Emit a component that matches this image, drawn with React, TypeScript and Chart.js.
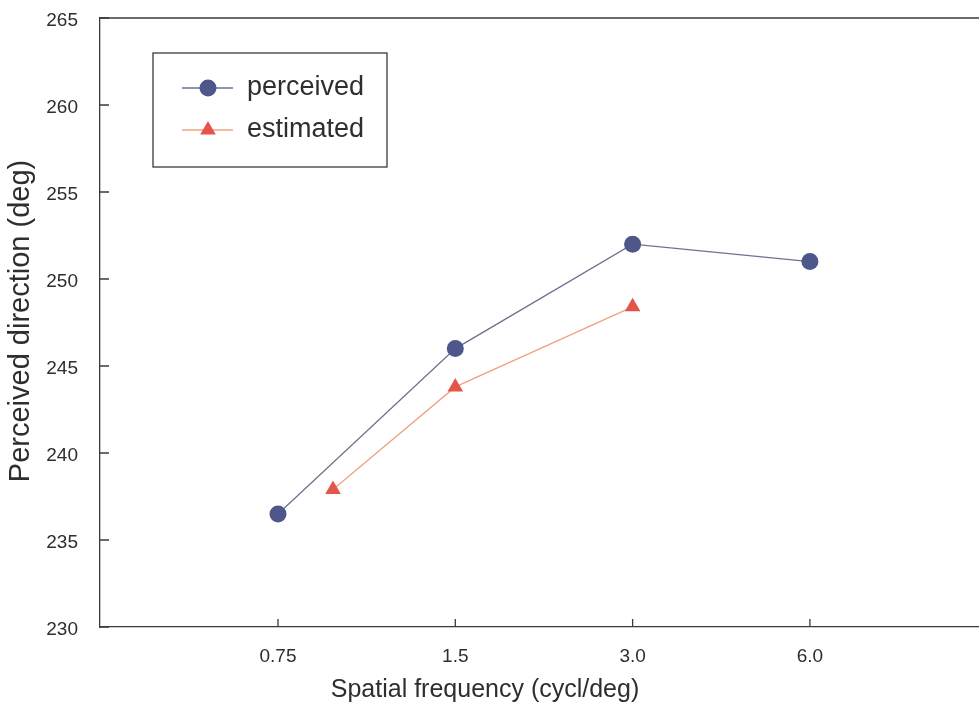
import React, { useEffect, useRef } from "react";
import { Chart, registerables } from "chart.js";
Chart.register(...registerables);

// ---- data ----
const xTickValues = [0.75, 1.5, 3.0, 6.0];
const xTickLabels = ["0.75", "1.5", "3.0", "6.0"];
const yTickValues = [230, 235, 240, 245, 250, 255, 260, 265];
const perceivedX = [0.75, 1.5, 3.0, 6.0];
const perceivedY = [236.5, 246, 252, 251];
const estimatedX = [0.93, 1.5, 3.0];
const estimatedY = [237.9, 243.8, 248.4];
const seriesNames = ["perceived", "estimated"];
const xTitle = "Spatial frequency (cycl/deg)";
const yTitle = "Perceived direction (deg)";

const FONT = "'Liberation Sans', Arial, sans-serif";
const AXIS = "#3a3a3a";
const TEXT = "#2e2e2e";
const P_LINE = "#6e728e";
const P_FILL = "#4e5789";
const E_LINE = "#f0a282";
const E_FILL = "#e4544a";

function drawMarker(ctx: CanvasRenderingContext2D, style: string, x: number, y: number, r: number, fill: string) {
  ctx.fillStyle = fill;
  ctx.beginPath();
  if (style === "circle") {
    ctx.arc(x, y, r, 0, Math.PI * 2);
  } else {
    const h = r * 1.5;
    const s = r * Math.sqrt(3);
    ctx.moveTo(x, y - h * 2 / 3);
    ctx.lineTo(x + s / 2, y + h / 3);
    ctx.lineTo(x - s / 2, y + h / 3);
    ctx.closePath();
  }
  ctx.fill();
}

const decor = {
  id: "decor",
  afterDraw(chart: any) {
    const { ctx, chartArea: a, scales } = chart;
    const x = scales.x, y = scales.y;
    ctx.save();
    ctx.strokeStyle = AXIS;
    ctx.lineWidth = 1.3;
    // top frame line
    ctx.beginPath();
    ctx.moveTo(a.left, a.top);
    ctx.lineTo(a.right, a.top);
    ctx.stroke();
    // inward ticks
    ctx.beginPath();
    y.ticks.forEach((t: any) => {
      const py = y.getPixelForValue(t.value);
      ctx.moveTo(a.left, py);
      ctx.lineTo(a.left + 9, py);
    });
    x.ticks.forEach((t: any) => {
      const px = x.getPixelForValue(t.value);
      ctx.moveTo(px, a.bottom);
      ctx.lineTo(px, a.bottom - 8);
    });
    ctx.stroke();

    // legend
    const lx = a.left + 53, ly = a.top + 35, lw = 234, lh = 114;
    ctx.fillStyle = "#ffffff";
    ctx.fillRect(lx, ly, lw, lh);
    ctx.strokeStyle = AXIS;
    ctx.lineWidth = 1.3;
    ctx.strokeRect(lx, ly, lw, lh);
    const entries = [
      { name: seriesNames[0], line: P_LINE, fill: P_FILL, style: "circle", r: 8.5 },
      { name: seriesNames[1], line: E_LINE, fill: E_FILL, style: "triangle", r: 9 },
    ];
    entries.forEach((e, i) => {
      const cy = ly + 35 + i * 42;
      ctx.strokeStyle = e.line;
      ctx.lineWidth = 1.3;
      ctx.beginPath();
      ctx.moveTo(lx + 29, cy);
      ctx.lineTo(lx + 80, cy);
      ctx.stroke();
      drawMarker(ctx, e.style, lx + 55, cy, e.r, e.fill);
      ctx.fillStyle = TEXT;
      ctx.font = `27px ${FONT}`;
      ctx.textBaseline = "middle";
      ctx.textAlign = "left";
      ctx.fillText(e.name, lx + 94, cy);
    });

    // axis titles
    ctx.fillStyle = TEXT;
    ctx.textAlign = "center";
    ctx.textBaseline = "middle";
    ctx.font = `25px ${FONT}`;
    ctx.fillText(xTitle, 485, 690);
    ctx.save();
    ctx.translate(21, 321);
    ctx.rotate(-Math.PI / 2);
    ctx.font = `29px ${FONT}`;
    ctx.fillText(yTitle, 0, 0);
    ctx.restore();
    ctx.restore();
  },
};

export default function App() {
  const ref = useRef<HTMLCanvasElement | null>(null);
  useEffect(() => {
    if (!ref.current) return;
    const chart = new Chart(ref.current, {
      type: "scatter",
      data: {
        datasets: [
          {
            label: seriesNames[0],
            data: perceivedX.map((v, i) => ({ x: v, y: perceivedY[i] })),
            showLine: true,
            borderColor: P_LINE,
            borderWidth: 1.3,
            pointStyle: "circle",
            pointRadius: 8.5,
            pointBackgroundColor: P_FILL,
            pointBorderColor: P_FILL,
            pointBorderWidth: 0,
          },
          {
            label: seriesNames[1],
            data: estimatedX.map((v, i) => ({ x: v, y: estimatedY[i] })),
            showLine: true,
            borderColor: E_LINE,
            borderWidth: 1.3,
            pointStyle: "triangle",
            pointRadius: 9,
            pointBackgroundColor: E_FILL,
            pointBorderColor: E_FILL,
            pointBorderWidth: 0,
          },
        ],
      },
      options: {
        animation: false,
        responsive: false,
        devicePixelRatio: 1,
        layout: { padding: { left: 0, top: 18, right: 0, bottom: 0 } },
        plugins: { legend: { display: false }, tooltip: { enabled: false } },
        scales: {
          x: {
            type: "logarithmic",
            min: 0.374,
            max: 11.62,
            afterBuildTicks: (s: any) => {
              s.ticks = xTickValues.map((v) => ({ value: v }));
            },
            afterFit: (s: any) => {
              s.height = 93;
            },
            ticks: {
              autoSkip: false,
              maxRotation: 0,
              padding: 18,
              color: TEXT,
              font: { family: FONT, size: 19 },
              callback: (_v: any, i: number) => xTickLabels[i],
            },
            grid: { display: true, drawOnChartArea: false, drawTicks: false },
            border: { display: true, color: AXIS, width: 1.3 },
          },
          y: {
            type: "linear",
            min: 230,
            max: 265,
            afterBuildTicks: (s: any) => {
              s.ticks = yTickValues.map((v) => ({ value: v }));
            },
            afterFit: (s: any) => {
              s.width = 100;
              s.paddingTop = 0;
              s.paddingBottom = 0;
            },
            ticks: {
              padding: 22,
              labelOffset: 3,
              color: TEXT,
              font: { family: FONT, size: 19 },
              callback: (v: any) => String(v),
            },
            grid: { display: true, drawOnChartArea: false, drawTicks: false },
            border: { display: true, color: AXIS, width: 1.3 },
          },
        },
      },
      plugins: [decor],
    });
    return () => chart.destroy();
  }, []);
  return (
    <div style={{ position: "fixed", left: 0, top: 0, width: 979, height: 720, overflow: "hidden", background: "#fff" }}>
      <canvas ref={ref} width={988} height={720} style={{ display: "block" }} />
    </div>
  );
}
